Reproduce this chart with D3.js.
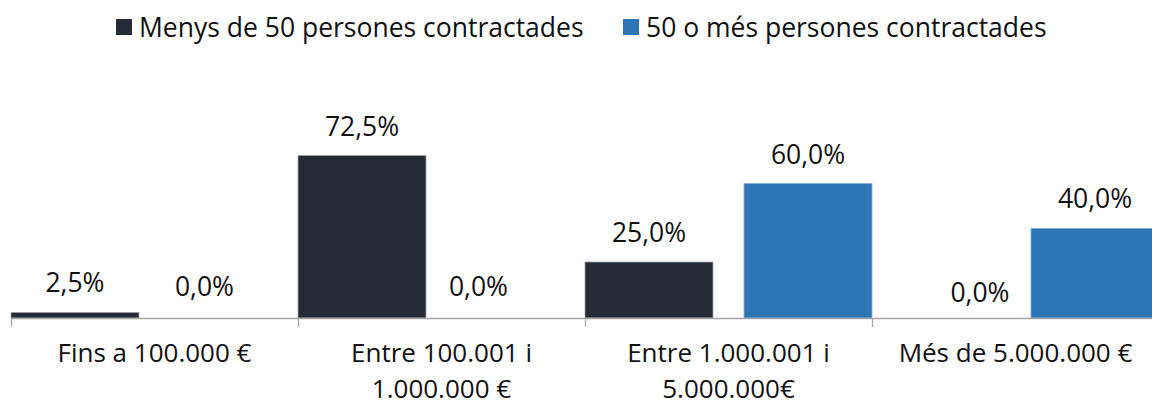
<!DOCTYPE html>
<meta charset="utf-8">
<head>
<script src="https://d3js.org/d3.v7.min.js"></script>
</head>
<style>
    html, body { margin: 0; padding: 0; background: #fff; }
    svg text { font-family: "Open Sans", "Noto Sans", sans-serif; fill: #111; }
    .label { font-size: 26.5px; text-anchor: middle; }
    .cat { font-size: 26px; text-anchor: middle; }
    .legend text { font-size: 26.5px; }
</style>
<body>
<div id="chart"></div>
<script>

// chart data
var categories = [
    ["Fins a 100.000 €"],
    ["Entre 100.001 i", "1.000.000 €"],
    ["Entre 1.000.001 i", "5.000.000€"],
    ["Més de 5.000.000 €"]
];
var seriesNames = ["Menys de 50 persones contractades", "50 o més persones contractades"];
var menys50 = [2.5, 72.5, 25.0, 0.0];
var mes50 = [0.0, 0.0, 60.0, 40.0];
var colors = ["#252b36", "#2e75b6"];
var strokes = ["#9da1a8", "#7fb0e0"];

// where the zero labels got nudged to in the original (dx, dy)
var zeroNudge = {"0-1": [-29.5, -2], "1-1": [-42.5, -2], "3-0": [44, 4]};

var width = 1152, height = 405;

var svg = d3.select("#chart").append("svg")
    .attr("width", width)
    .attr("height", height);

var catKeys = categories.map(function(d) { return d.join(" "); });

// outer band for categories, runs a little past the right edge like the original
var x0 = d3.scaleBand().domain(catKeys).range([11, 1159]).paddingInner(0).paddingOuter(0);
var x1 = d3.scaleBand().domain([0, 1]).range([0, x0.bandwidth()]).paddingInner(0.195).paddingOuter(0);
var y = d3.scaleLinear().domain([0, 80]).range([318, 138.8]);

var data = [];
catKeys.forEach(function(c, i) {
    [menys50, mes50].forEach(function(s, j) {
        data.push({cat: c, ci: i, series: j, value: s[i]});
    });
});

// bars
svg.selectAll(".bar")
    .data(data.filter(function(d) { return d.value > 0; }))
    .enter().append("rect")
    .attr("class", "bar")
    .attr("x", function(d) { return x0(d.cat) + x1(d.series); })
    .attr("y", function(d) { return y(d.value); })
    .attr("width", x1.bandwidth())
    .attr("height", function(d) { return y(0) - y(d.value); })
    .attr("fill", function(d) { return colors[d.series]; })
    .attr("stroke", function(d) { return strokes[d.series]; })
    .attr("stroke-width", 0.8);

// axis line + ticks
svg.append("line")
    .attr("x1", 11).attr("x2", width)
    .attr("y1", y(0) + 0.5).attr("y2", y(0) + 0.5)
    .attr("stroke", "#a6a6a6").attr("stroke-width", 1.3);

var tickPos = catKeys.map(function(c) { return x0(c); }).concat([x0.range()[1]]);
svg.selectAll(".tick")
    .data(tickPos)
    .enter().append("line")
    .attr("x1", function(d) { return Math.round(d) + 0.5; })
    .attr("x2", function(d) { return Math.round(d) + 0.5; })
    .attr("y1", y(0))
    .attr("y2", y(0) + 9)
    .attr("stroke", "#a6a6a6").attr("stroke-width", 1.3);

// value labels
svg.selectAll(".label")
    .data(data)
    .enter().append("text")
    .attr("class", "label")
    .attr("x", function(d) {
        var cx = x0(d.cat) + x1(d.series) + x1.bandwidth() / 2;
        var n = zeroNudge[d.ci + "-" + d.series];
        return d.value === 0 && n ? cx + n[0] : cx;
    })
    .attr("y", function(d) {
        var yy = y(d.value) - 20;
        var n = zeroNudge[d.ci + "-" + d.series];
        return d.value === 0 && n ? yy + n[1] : yy;
    })
    .text(function(d) { return d3.format(".1f")(d.value).replace(".", ",") + "%"; });

// category labels (second line kept just inside the bottom edge)
var cl = svg.selectAll(".cat")
    .data(categories)
    .enter().append("text")
    .attr("class", "cat")
    .attr("y", 362);
cl.each(function(lines, i) {
    var t = d3.select(this);
    var cx = x0(catKeys[i]) + x0.bandwidth() / 2;
    lines.forEach(function(l, k) {
        t.append("tspan").attr("x", cx).attr("y", 362 + k * 35.5).text(l);
    });
});

// legend
var legX = [116, 623];
var leg = svg.selectAll(".legend")
    .data(seriesNames)
    .enter().append("g")
    .attr("class", "legend")
    .attr("transform", function(d, i) { return "translate(" + legX[i] + ",0)"; });
leg.append("rect")
    .attr("x", 0).attr("y", 19)
    .attr("width", 16).attr("height", 16)
    .attr("fill", function(d, i) { return colors[i]; });
leg.append("text")
    .attr("x", 23).attr("y", 37)
    .text(function(d) { return d; });

</script>
</body>
